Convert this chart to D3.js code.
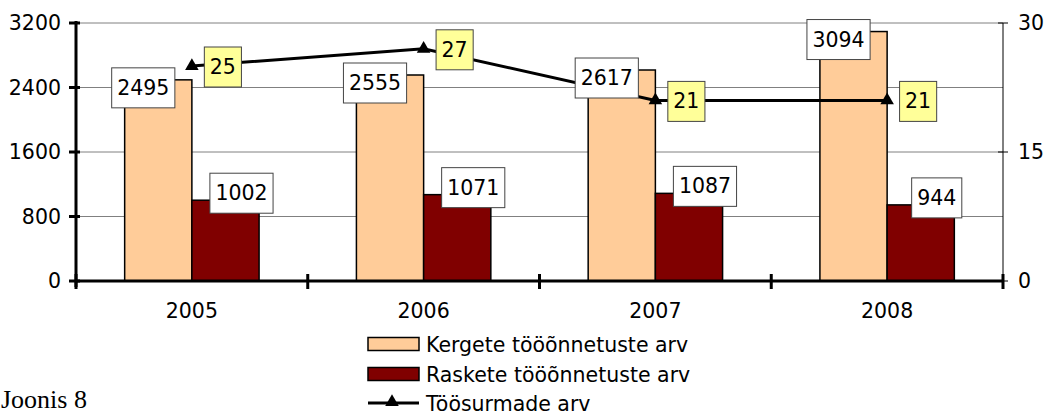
<!DOCTYPE html>
<html>
<head>
<meta charset="utf-8">
<script src="https://cdn.jsdelivr.net/npm/d3@7"></script>
<style>
    body { margin: 0; background: #fff; }
    text { font-family: "DejaVu Sans", Verdana, sans-serif; fill: #000; }
</style>
</head>
<body>
<div id="chart"></div>
<script>
// data
const years = ["2005", "2006", "2007", "2008"];
const lightAccidents = [2495, 2555, 2617, 3094];   // Kergete tööõnnetuste arv
const severeAccidents = [1002, 1071, 1087, 944];   // Raskete tööõnnetuste arv
const fatalities = [25, 27, 21, 21];               // Töösurmade arv
const leftTicks = [0, 800, 1600, 2400, 3200];
const rightTicks = [0, 15, 30];
const seriesNames = ["Kergete tööõnnetuste arv", "Raskete tööõnnetuste arv", "Töösurmade arv"];

const W = 1046, H = 416;
const plot = {left: 76, right: 1003, top: 23, bottom: 281};
const fontSize = 20.5;

let svg = d3.select("#chart").append("svg")
    .attr("width", W)
    .attr("height", H);

// scales
let x0 = d3.scaleBand()
    .domain(years)
    .range([plot.left, plot.right]);

let x1 = d3.scaleBand()
    .domain(["light", "dark"])
    .range([x0.bandwidth() * 0.21, x0.bandwidth() * 0.79]);

let yLeft = d3.scaleLinear()
    .domain([0, 3200])
    .range([plot.bottom, plot.top]);

let yRight = d3.scaleLinear()
    .domain([0, 30])
    .range([plot.bottom, plot.top]);

// gridlines
svg.append("g")
    .selectAll("line")
    .data(leftTicks.filter(d => d > 0))
    .join("line")
    .attr("x1", plot.left).attr("x2", plot.right)
    .attr("y1", d => yLeft(d)).attr("y2", d => yLeft(d))
    .attr("stroke", "#808080")
    .attr("stroke-width", 1);

// bars
let rows = years.map((y, i) => ({year: y, light: lightAccidents[i], dark: severeAccidents[i], fatal: fatalities[i]}));
let colors = {light: "#ffcc99", dark: "#800000"};

let groups = svg.append("g")
    .selectAll("g")
    .data(rows)
    .join("g")
    .attr("transform", d => `translate(${x0(d.year)},0)`);

groups.selectAll("rect")
    .data(d => ["light", "dark"].map(k => ({key: k, value: d[k]})))
    .join("rect")
    .attr("x", d => x1(d.key))
    .attr("y", d => yLeft(d.value))
    .attr("width", x1.bandwidth())
    .attr("height", d => yLeft(0) - yLeft(d.value))
    .attr("fill", d => colors[d.key])
    .attr("stroke", "#000")
    .attr("stroke-width", 1.5);

// left axis
let leftAxis = d3.axisLeft(yLeft).tickValues(leftTicks).tickFormat(d3.format("d")).tickSize(0).tickPadding(15);
let gl = svg.append("g").attr("transform", `translate(${plot.left},0)`).call(leftAxis);
gl.select(".domain").remove();
gl.selectAll("text").style("font-size", fontSize + "px").attr("font-family", null);
svg.append("line")
    .attr("x1", plot.left).attr("x2", plot.left)
    .attr("y1", plot.top - 2).attr("y2", plot.bottom + 6)
    .attr("stroke", "#000").attr("stroke-width", 3);
svg.append("g").selectAll("line")
    .data(leftTicks)
    .join("line")
    .attr("x1", plot.left - 7).attr("x2", plot.left + 4)
    .attr("y1", d => yLeft(d)).attr("y2", d => yLeft(d))
    .attr("stroke", "#000").attr("stroke-width", 3);

// right axis
let rightAxis = d3.axisRight(yRight).tickValues(rightTicks).tickSize(0).tickPadding(15);
let gr = svg.append("g").attr("transform", `translate(${plot.right},0)`).call(rightAxis);
gr.select(".domain").remove();
gr.selectAll("text").style("font-size", fontSize + "px").attr("font-family", null);
svg.append("line")
    .attr("x1", plot.right).attr("x2", plot.right)
    .attr("y1", plot.top).attr("y2", plot.bottom)
    .attr("stroke", "#000").attr("stroke-width", 1);
svg.append("g").selectAll("line")
    .data(rightTicks)
    .join("line")
    .attr("x1", plot.right - 5).attr("x2", plot.right + 5)
    .attr("y1", d => yRight(d)).attr("y2", d => yRight(d))
    .attr("stroke", "#000").attr("stroke-width", 1);

// x axis
svg.append("line")
    .attr("x1", plot.left).attr("x2", plot.right)
    .attr("y1", plot.bottom).attr("y2", plot.bottom)
    .attr("stroke", "#000").attr("stroke-width", 3);
svg.append("g").selectAll("line")
    .data(years.map(y => x0(y)).concat([plot.right]))
    .join("line")
    .attr("x1", d => d).attr("x2", d => d)
    .attr("y1", plot.bottom - 7).attr("y2", plot.bottom + 8)
    .attr("stroke", "#000").attr("stroke-width", 3);
svg.append("g").selectAll("text")
    .data(years)
    .join("text")
    .attr("x", d => x0(d) + x0.bandwidth() / 2)
    .attr("y", 318)
    .attr("text-anchor", "middle")
    .style("font-size", fontSize + "px")
    .text(d => d);

// fatalities line
let lineX = d => x0(d.year) + x0.bandwidth() / 2;
let line = d3.line()
    .x(lineX)
    .y(d => yRight(d.fatal));
svg.append("path")
    .datum(rows)
    .attr("d", line)
    .attr("fill", "none")
    .attr("stroke", "#000")
    .attr("stroke-width", 3);
let tri = d3.symbol().type(d3.symbolTriangle).size(80);
svg.append("g").selectAll("path")
    .data(rows)
    .join("path")
    .attr("transform", d => `translate(${lineX(d)},${yRight(d.fatal)})`)
    .attr("d", tri)
    .attr("fill", "#000");

// data labels
function label(g, cx, cy, txt, fill) {
    let t = g.append("text")
        .attr("x", cx).attr("y", cy)
        .attr("text-anchor", "middle")
        .attr("dominant-baseline", "central")
        .style("font-size", fontSize + "px")
        .text(txt);
    let w = t.node().getComputedTextLength() + 11;
    g.insert("rect", "text")
        .attr("x", cx - w / 2).attr("y", cy - 20)
        .attr("width", w).attr("height", 40)
        .attr("fill", fill)
        .attr("stroke", "#444")
        .attr("stroke-width", 1);
}
let labels = svg.append("g");
rows.forEach(d => {
    let gx = x0(d.year);
    label(labels.append("g"), gx + x1("light") + x1.bandwidth() / 2 - 15, yLeft(d.light) + 8, d.light, "#fff");
    label(labels.append("g"), gx + x1("dark") + x1.bandwidth() / 2 + 16, yLeft(d.dark) - 7, d.dark, "#fff");
    label(labels.append("g"), lineX(d) + 31, yRight(d.fatal) + 1, d.fatal, "#ffff99");
});

// legend
let legend = svg.append("g").attr("transform", "translate(368,0)");
let legendRows = [
    {name: seriesNames[0], type: "rect", color: colors.light, y: 344},
    {name: seriesNames[1], type: "rect", color: colors.dark, y: 374},
    {name: seriesNames[2], type: "line", color: "#000", y: 403}
];
legendRows.forEach(r => {
    if (r.type === "rect") {
        legend.append("rect")
            .attr("x", 0).attr("y", r.y - 6.5)
            .attr("width", 51).attr("height", 13)
            .attr("fill", r.color)
            .attr("stroke", "#000").attr("stroke-width", 1.5);
    } else {
        legend.append("line")
            .attr("x1", 0).attr("x2", 51)
            .attr("y1", r.y).attr("y2", r.y)
            .attr("stroke", "#000").attr("stroke-width", 3);
        legend.append("path")
            .attr("transform", `translate(24,${r.y - 1})`)
            .attr("d", tri)
            .attr("fill", "#000");
    }
    legend.append("text")
        .attr("x", 58).attr("y", r.y + 7.5)
        .style("font-size", fontSize + "px")
        .text(r.name);
});

// caption
svg.append("text")
    .attr("x", 1).attr("y", 408)
    .style("font-family", "'Liberation Serif', 'Times New Roman', serif")
    .style("font-size", "26px")
    .text("Joonis 8");
</script>
</body>
</html>
